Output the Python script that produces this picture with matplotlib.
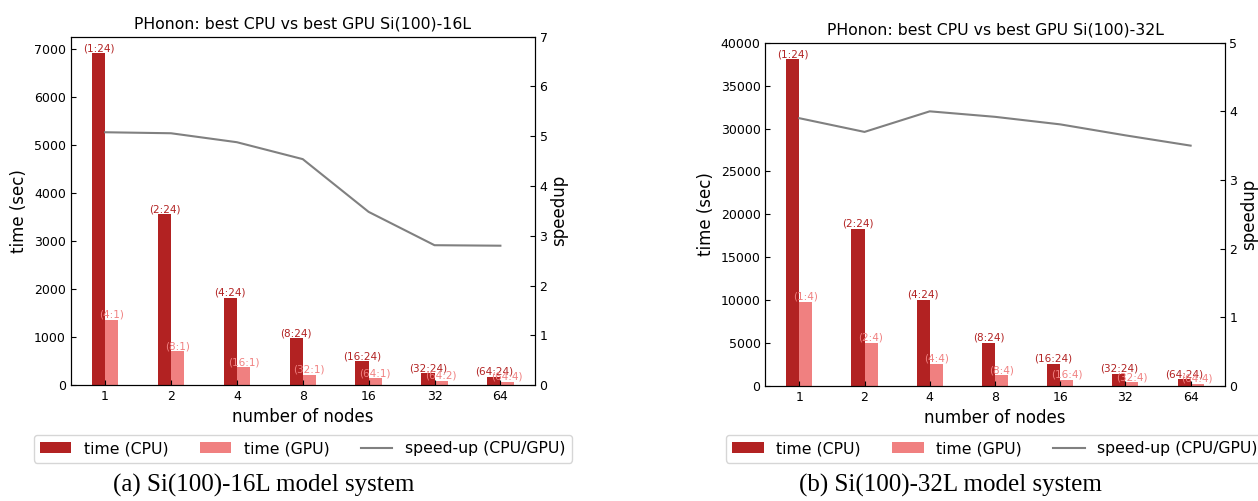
import numpy as np
import matplotlib
matplotlib.use("Agg")
import matplotlib.pyplot as plt

# data
nodes = ["1", "2", "4", "8", "16", "32", "64"]

cpu_16L = [6900, 3550, 1820, 970, 490, 240, 175]
gpu_16L = [1360, 700, 370, 215, 140, 85, 63]
speedup_16L = [5.08, 5.06, 4.88, 4.54, 3.48, 2.81, 2.80]
cpu_lab_16L = ["(1:24)", "(2:24)", "(4:24)", "(8:24)", "(16:24)", "(32:24)", "(64:24)"]
gpu_lab_16L = ["(4:1)", "(8:1)", "(16:1)", "(32:1)", "(64:1)", "(64:2)", "(64:4)"]

cpu_32L = [38100, 18300, 10000, 5000, 2540, 1400, 780]
gpu_32L = [9800, 5000, 2540, 1250, 670, 420, 230]
speedup_32L = [3.90, 3.70, 4.00, 3.92, 3.81, 3.65, 3.50]
cpu_lab_32L = ["(1:24)", "(2:24)", "(4:24)", "(8:24)", "(16:24)", "(32:24)", "(64:24)"]
gpu_lab_32L = ["(1:4)", "(2:4)", "(4:4)", "(8:4)", "(16:4)", "(32:4)", "(64:4)"]

CPU_COLOR = "firebrick"
GPU_COLOR = "lightcoral"
LINE_COLOR = "gray"


def draw_panel(ax, cpu, gpu, speedup, cpu_lab, gpu_lab, title, ymax2, caption, cap_x):
    x = np.arange(len(nodes))
    w = 0.2
    b1 = ax.bar(x - w / 2, cpu, w, color=CPU_COLOR, label="time (CPU)")
    b2 = ax.bar(x + w / 2, gpu, w, color=GPU_COLOR, label="time (GPU)")
    # core layout labels on top of each bar
    for bar, lab in zip(b1, cpu_lab):
        ax.text(bar.get_x() + bar.get_width() / 2, bar.get_height(), lab,
                ha="center", va="bottom", fontsize=7.5, color=CPU_COLOR)
    for bar, lab in zip(b2, gpu_lab):
        ax.text(bar.get_x() + bar.get_width() / 2, bar.get_height(), lab,
                ha="center", va="bottom", fontsize=7.5, color=GPU_COLOR)
    ax.set_xticks(x)
    ax.set_xticklabels(nodes)
    ax.set_xlabel("number of nodes", fontsize=12)
    ax.set_ylabel("time (sec)", fontsize=12)
    ax.set_title(title, fontsize=11.3)
    ax.tick_params(direction="in", labelsize=9)

    ax2 = ax.twinx()
    ln, = ax2.plot(x, speedup, color=LINE_COLOR, linewidth=1.5, label="speed-up (CPU/GPU)")
    ax2.set_ylim(0, ymax2)
    ax2.set_ylabel("speedup", fontsize=12, labelpad=2)
    ax2.tick_params(direction="in", labelsize=9)

    ax.legend([b1, b2, ln], ["time (CPU)", "time (GPU)", "speed-up (CPU/GPU)"],
              loc="upper center", bbox_to_anchor=(0.5, -0.121), ncol=3, fontsize=11.3)

    fig.text(cap_x, 0.018, caption, ha="center", va="baseline",
             fontsize=18, family="Liberation Serif")


fig = plt.figure(figsize=(12.58, 5.01), dpi=100)
ax_a = fig.add_axes([0.0563, 0.2315, 0.3687, 0.6952])
ax_b = fig.add_axes([0.6084, 0.2301, 0.3650, 0.6846])

draw_panel(ax_a, cpu_16L, gpu_16L, speedup_16L, cpu_lab_16L, gpu_lab_16L,
           "PHonon: best CPU vs best GPU Si(100)-16L", 7,
           "(a) Si(100)-16L model system", 264 / 1258)
draw_panel(ax_b, cpu_32L, gpu_32L, speedup_32L, cpu_lab_32L, gpu_lab_32L,
           "PHonon: best CPU vs best GPU Si(100)-32L", 5,
           "(b) Si(100)-32L model system", 950 / 1258)

fig.savefig("out.png", dpi=100)
